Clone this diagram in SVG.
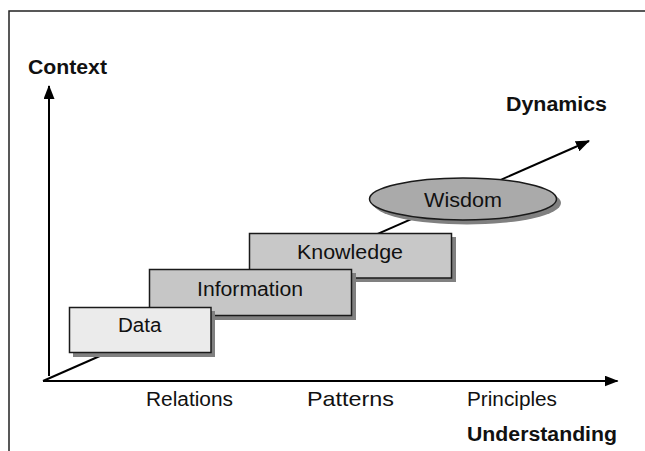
<svg xmlns="http://www.w3.org/2000/svg" width="645" height="451" viewBox="0 0 645 451">
<style>
.lbl{font-family:"Liberation Sans",Arial,sans-serif;font-size:19.5px;fill:#111}
.bold{font-family:"Liberation Sans",Arial,sans-serif;font-size:20px;font-weight:bold;fill:#111}
.box{stroke:#1a1a1a;stroke-width:1.5}
.shadow{fill:#808080}
.axis{stroke:#000;stroke-width:2;fill:none}
</style>
<defs>
<marker id="ah" markerWidth="14" markerHeight="11" refX="13" refY="5.5" orient="auto" markerUnits="userSpaceOnUse">
<path d="M0,0 L14,5.5 L0,11 Z" fill="#000"/>
</marker>
</defs>
<path d="M9,451 L9,11 L645,11" fill="none" stroke="#222" stroke-width="1.5"/>
<g id="connectors">
<line class="axis" x1="49" y1="376" x2="49" y2="86" marker-end="url(#ah)"/>
<line class="axis" x1="43" y1="381" x2="617.5" y2="381" marker-end="url(#ah)"/>
<line class="axis" x1="43" y1="381" x2="589" y2="141" marker-end="url(#ah)"/>
</g>
<g id="wisdom">
<ellipse class="shadow" cx="467" cy="203" rx="94" ry="21.5"/>
<ellipse class="box" cx="463" cy="199" rx="93.5" ry="21" fill="#aaaaaa"/>
<text class="lbl" x="424" y="206.7" textLength="78" lengthAdjust="spacingAndGlyphs">Wisdom</text>
</g>
<g id="knowledge">
<rect class="shadow" x="253" y="237" width="203" height="45"/>
<rect class="box" x="249.5" y="233.5" width="202" height="44.5" fill="#c8c8c8"/>
<text class="lbl" x="297" y="258.5" textLength="106" lengthAdjust="spacingAndGlyphs">Knowledge</text>
</g>
<g id="information">
<rect class="shadow" x="153" y="273" width="203" height="47"/>
<rect class="box" x="149.5" y="269.5" width="202" height="46" fill="#c6c6c6"/>
<text class="lbl" x="197" y="296" textLength="106" lengthAdjust="spacingAndGlyphs">Information</text>
</g>
<g id="data">
<rect class="shadow" x="73" y="311" width="142" height="46"/>
<rect class="box" x="69.5" y="307.5" width="141.5" height="45" fill="#ebebeb"/>
<text class="lbl" x="118" y="332.3" textLength="43.5" lengthAdjust="spacingAndGlyphs">Data</text>
</g>
<g id="labels">
<text class="bold" x="28" y="74" textLength="79" lengthAdjust="spacingAndGlyphs">Context</text>
<text class="bold" x="506" y="111" textLength="101" lengthAdjust="spacingAndGlyphs">Dynamics</text>
<text class="bold" x="467" y="441" textLength="150" lengthAdjust="spacingAndGlyphs">Understanding</text>
<text class="lbl" x="146" y="405.7" textLength="87" lengthAdjust="spacingAndGlyphs">Relations</text>
<text class="lbl" x="307" y="406" style="font-size:21px" textLength="87" lengthAdjust="spacingAndGlyphs">Patterns</text>
<text class="lbl" x="467" y="406" textLength="90" lengthAdjust="spacingAndGlyphs">Principles</text>
</g>
</svg>
